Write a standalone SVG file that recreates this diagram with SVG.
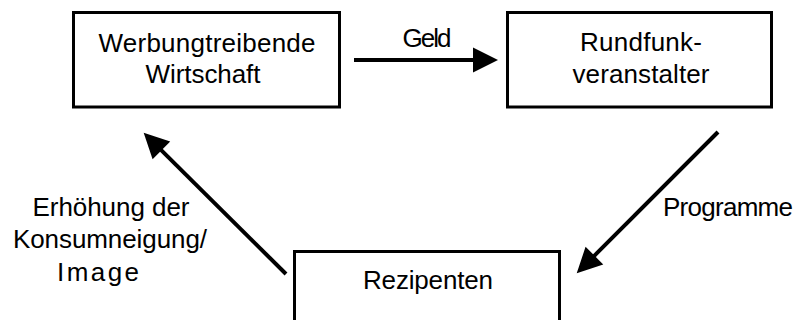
<svg xmlns="http://www.w3.org/2000/svg" width="800" height="320" viewBox="0 0 800 320">
<style>
.box{fill:#fff;stroke:#000;stroke-width:3}
.lbl{font-family:"Liberation Sans",Arial,sans-serif;font-size:26px;fill:#000;text-anchor:middle}
.con{stroke:#000;stroke-width:4;fill:none}
</style>
<defs>
<marker id="ah" markerUnits="userSpaceOnUse" markerWidth="26" markerHeight="26" refX="1" refY="12.5" orient="auto" overflow="visible">
<path d="M0,0 L25,12.5 L0,25 Z" fill="#000"/>
</marker>
</defs>
<rect width="800" height="320" fill="#fff"/>
<g id="werbung">
<rect class="box" x="73.5" y="12.5" width="266" height="94.5"/>
<text class="lbl" x="207" y="52" textLength="217" lengthAdjust="spacing">Werbungtreibende</text>
<text class="lbl" x="203" y="83" textLength="115" lengthAdjust="spacing">Wirtschaft</text>
</g>
<g id="rundfunk">
<rect class="box" x="507.5" y="12.5" width="264" height="94.5"/>
<text class="lbl" x="641" y="51" textLength="122" lengthAdjust="spacing">Rundfunk-</text>
<text class="lbl" x="641" y="83" textLength="137" lengthAdjust="spacing">veranstalter</text>
</g>
<g id="rezipienten">
<rect class="box" x="294.5" y="251.5" width="265" height="100"/>
<text class="lbl" x="428" y="289" textLength="130" lengthAdjust="spacing">Rezipenten</text>
</g>
<g id="connectors">
<line class="con" x1="354" y1="60" x2="474" y2="60" marker-end="url(#ah)"/>
<line class="con" x1="718" y1="132" x2="593.7" y2="256.3" marker-end="url(#ah)"/>
<line class="con" x1="286" y1="274" x2="160.7" y2="149.6" marker-end="url(#ah)"/>
<text class="lbl" x="427" y="47" textLength="49" lengthAdjust="spacing">Geld</text>
<text class="lbl" x="728" y="216" textLength="130" lengthAdjust="spacing">Programme</text>
<text class="lbl" x="111" y="216" textLength="157" lengthAdjust="spacing">Erhöhung der</text>
<text class="lbl" x="110" y="248" textLength="194" lengthAdjust="spacing">Konsumneigung/</text>
<text class="lbl" x="98" y="281" textLength="82" lengthAdjust="spacing">Image</text>
</g>
</svg>
